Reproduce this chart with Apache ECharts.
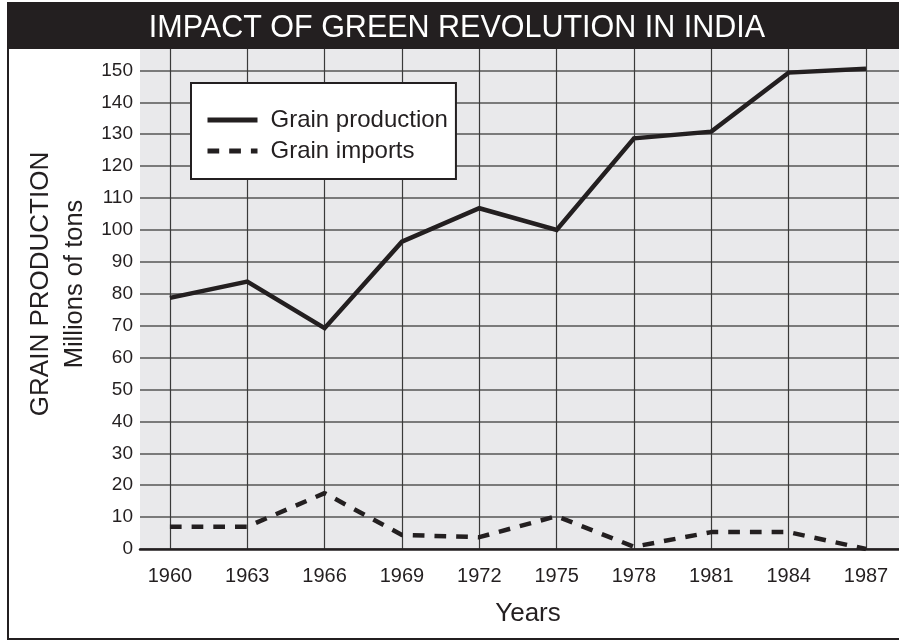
<!DOCTYPE html>
<html>
<head>
<meta charset="utf-8">
<title>Impact of Green Revolution in India</title>
<script src="https://cdn.jsdelivr.net/npm/echarts@6/dist/echarts.min.js"></script>
<style>
  html, body { margin: 0; padding: 0; background: #fff; }
  #chart { width: 899px; height: 640px; }
</style>
</head>
<body>
<div id="chart"></div>
<script>
// 数据
const years = [1960, 1963, 1966, 1969, 1972, 1975, 1978, 1981, 1984, 1987]
const grainProduction = [78.7, 83.8, 69.2, 96.3, 106.8, 100, 128.7, 130.8, 149.3, 150.5]
const grainImports = [7, 7, 17.5, 4.4, 3.7, 10.3, 0.7, 5.3, 5.3, 0]
const yTicks = [0, 10, 20, 30, 40, 50, 60, 70, 80, 90, 100, 110, 120, 130, 140, 150]

const ink = '#231f20'
const font = '"Liberation Sans", Arial, Helvetica, sans-serif'

const chart = echarts.init(document.getElementById('chart'))

const toPairs = (vals) => years.map((y, i) => [y, vals[i]])

chart.setOption({
  animation: false,
  textStyle: { fontFamily: font, color: ink },
  title: {
    text: 'IMPACT OF GREEN REVOLUTION IN INDIA',
    left: 457,
    top: 13,
    textAlign: 'center',
    padding: 0,
    textStyle: { color: '#fff', fontSize: 30.5, fontWeight: 'normal', fontFamily: font }
  },
  graphic: [
    {
      type: 'rect',
      z: 0,
      shape: { x: 7, y: 3, width: 900, height: 46 },
      style: { fill: ink }
    },
    {
      type: 'rect',
      z: 10,
      shape: { x: 8, y: 3, width: 900, height: 636 },
      style: { fill: null, stroke: ink, lineWidth: 2 }
    }
  ],
  legend: {
    orient: 'vertical',
    left: 191,
    top: 83,
    padding: [25, 8, 16, 14],
    itemWidth: 50,
    itemHeight: 20,
    itemGap: 7,
    backgroundColor: '#fff',
    borderColor: ink,
    borderWidth: 2,
    // 隐藏图例里的圆点，只留线段
    itemStyle: { opacity: 0, color: 'rgba(0,0,0,0)', borderWidth: 0 },
    lineStyle: { width: 5 },
    textStyle: { fontSize: 24, color: ink, fontFamily: font, padding: [0, 0, 0, 8] },
    data: ['Grain production', 'Grain imports']
  },
  grid: {
    left: 140,
    right: 0,
    top: 49,
    bottom: 91,
    show: true,
    backgroundColor: '#e9e9eb',
    borderWidth: 0
  },
  xAxis: {
    type: 'value',
    min: 1958.84,
    max: 1988.28,
    name: 'Years',
    nameLocation: 'middle',
    nameGap: 52,
    nameTextStyle: { fontSize: 26, color: ink, padding: [0, 0, 0, 17] },
    axisLine: { show: true, lineStyle: { color: ink, width: 2.5 } },
    axisTick: { show: false, customValues: years },
    axisLabel: {
      customValues: years,
      fontSize: 20,
      color: ink,
      margin: 17,
      formatter: (v) => String(v)
    },
    splitLine: { show: true, lineStyle: { color: '#3a3a3a', width: 1.2 } }
  },
  yAxis: {
    type: 'value',
    min: 0,
    max: 156.7,
    interval: 10,
    name: '{a|GRAIN PRODUCTION}\n{b|Millions of tons}',
    nameLocation: 'middle',
    nameRotate: 90,
    nameGap: 48,
    nameTextStyle: {
      padding: [0, 0, 0, 30],
      rich: {
        a: { fontSize: 26, color: ink, lineHeight: 34, fontFamily: font },
        b: { fontSize: 25.5, color: ink, lineHeight: 34, fontFamily: font }
      }
    },
    axisLine: { show: false },
    axisTick: { show: false },
    axisLabel: {
      fontSize: 19,
      color: ink,
      margin: 7,
      formatter: (v) => (yTicks.includes(v) ? String(v) : '')
    },
    splitLine: { show: true, showMaxLine: false, lineStyle: { color: '#555', width: 1.5 } }
  },
  series: [
    {
      name: 'Grain production',
      type: 'line',
      data: toPairs(grainProduction),
      symbol: 'none',
      color: ink,
      lineStyle: { color: ink, width: 4.5, join: 'miter' },
      z: 3
    },
    {
      name: 'Grain imports',
      type: 'line',
      data: toPairs(grainImports),
      symbol: 'none',
      color: ink,
      lineStyle: { color: ink, width: 4.5, type: [11.7, 10], cap: 'butt' },
      z: 3
    }
  ]
})
</script>
</body>
</html>
